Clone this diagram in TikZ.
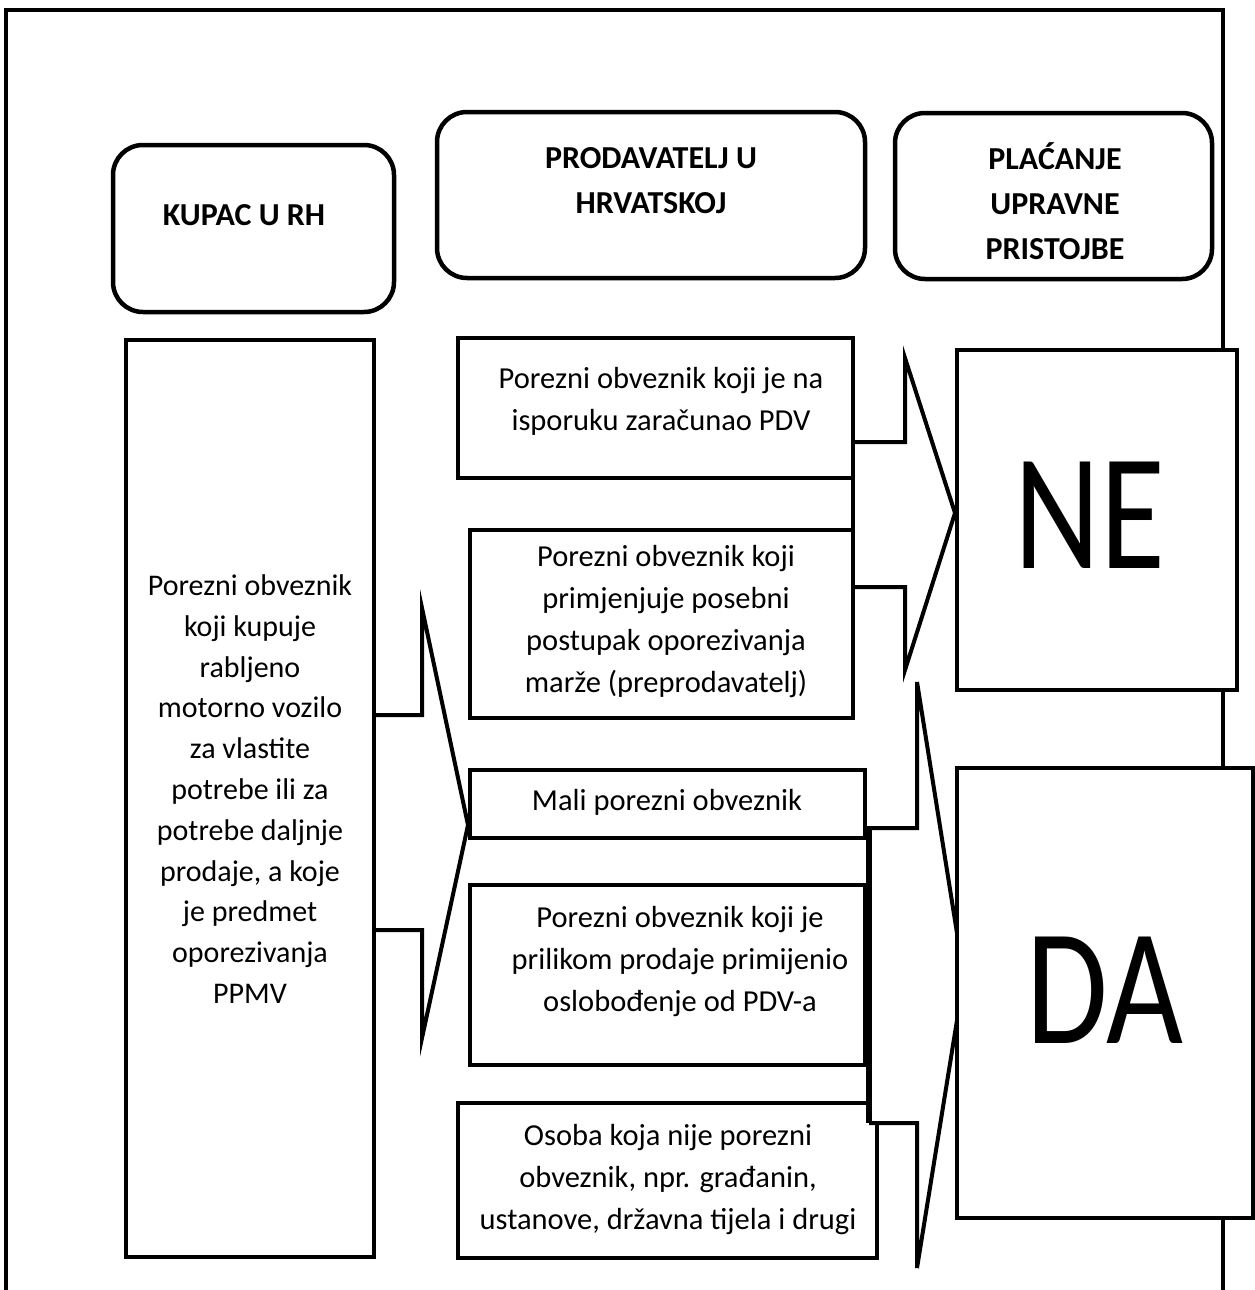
\documentclass[tikz,border=0pt]{standalone}
\usepackage{fontspec}
\setmainfont{Carlito}
\begin{document}
\begin{tikzpicture}[x=1pt,y=-1pt,
  ln/.style={line width=4pt,line join=miter},
  hdr/.style={draw,line width=4.5pt,rounded corners=30pt,fill=white,inner sep=0pt,outer sep=0pt},
  rbox/.style={draw,line width=4pt,fill=white,inner sep=0pt,outer sep=0pt},
  txt/.style={font=\fontsize{30.5}{42}\selectfont,align=center,inner sep=0pt},
  htxt/.style={font=\bfseries\fontsize{32}{45}\selectfont,align=center,inner sep=0pt},
  big/.style={font=\fontsize{166}{166}\selectfont,inner sep=0pt,xscale=0.8}]
\useasboundingbox (0,0) rectangle (1255,1290);
% outer frame (open at bottom)
\draw[ln,line width=4.5pt] (6,1290) -- (6,10) -- (1223,10) -- (1223,1290);
% headers
\node[hdr,minimum width=281pt,minimum height=167pt] (kupac) at (253.5,228.5) {};
\node[htxt] (kupact) at (244,215) {KUPAC U RH};
\node[hdr,minimum width=428pt,minimum height=166pt] (prod) at (651,195) {};
\node[htxt] (prodt) at (651,181) {PRODAVATELJ U\\HRVATSKOJ};
\node[hdr,minimum width=317pt,minimum height=166pt] (plac) at (1053.5,196) {};
\node[htxt] (plact) at (1055,201) {PLAĆANJE\\UPRAVNE\\PRISTOJBE};
% left tall box
\node[rbox,minimum width=248pt,minimum height=917pt] (L) at (250,798.5) {};
\node[txt,font=\fontsize{30}{40.8}\selectfont] (Lt) at (250,789) {Porezni obveznik\\koji kupuje\\rabljeno\\motorno vozilo\\za vlastite\\potrebe ili za\\potrebe daljnje\\prodaje, a koje\\je predmet\\oporezivanja\\PPMV};
% seller boxes
\node[rbox,minimum width=395pt,minimum height=140pt] (b1) at (655.5,408) {};
\node[txt] (b1t) at (661,401) {Porezni obveznik koji je na\\isporuku zaračunao PDV};
\node[rbox,minimum width=383pt,minimum height=188pt] (b2) at (661.5,624) {};
\node[txt] (b2t) at (666,622) {Porezni obveznik koji\\primjenjuje posebni\\postupak oporezivanja\\marže (preprodavatelj)};
\node[rbox,minimum width=395pt,minimum height=68pt] (b3) at (667.5,804) {};
\node[txt] (b3t) at (667,802) {Mali porezni obveznik};
\node[rbox,minimum width=395pt,minimum height=180pt] (b4) at (667.5,975) {};
\node[txt] (b4t) at (680,962) {Porezni obveznik koji je\\prilikom prodaje primijenio\\oslobođenje od PDV-a};
% bracket coordinates
\coordinate (bt) at (869,828);
\coordinate (bb) at (869,1123);
% last seller box: its top right corner meets the bracket
\node[fill=white,inner sep=0pt,outer sep=0pt,minimum width=419pt,minimum height=155pt] (b5) at (667.5,1180.5) {};
\draw[ln] (bb |- b5.north) -- (b5.north west) -- (b5.south west) -- (b5.south east) -- (b5.east |- bb);
\node[txt] (b5t) at (668,1180) {Osoba koja nije porezni\\obveznik, npr. građanin,\\ustanove, državna tijela i drugi};
% bracket joining b1 and b2
\draw[ln] (b1.south east) -- (b2.north east);
% NE arrow
\draw[ln] (b1.east |- 0,442) -- (905,442) -- (905,358) -- (955,513) -- (905,670) -- (905,587) -- (b2.east |- 0,587);
% bracket b3..b5
\draw[ln,line width=5.5pt] (bt) -- (bb);
\draw[ln] (b3.east |- bt) -- (bt);
% DA arrow
\draw[ln] (bt) -- (917,828) -- (917,682) -- (964,977) -- (917,1268) -- (917,1123) -- (bb);
% left arrow
\draw[ln] (L.east |- 0,715) -- (422,715) -- (422,608) -- (468,825) -- (422,1038) -- (422,930) -- (L.east |- 0,930);
% result boxes
\node[rbox,minimum width=280pt,minimum height=340pt] (ne) at (1097,520) {};
\node[big] (net) at (1090,515) {NE};
\node[rbox,minimum width=296pt,minimum height=450pt] (da) at (1105,993) {};
\node[big] (dat) at (1105,990) {DA};
\end{tikzpicture}
\end{document}
